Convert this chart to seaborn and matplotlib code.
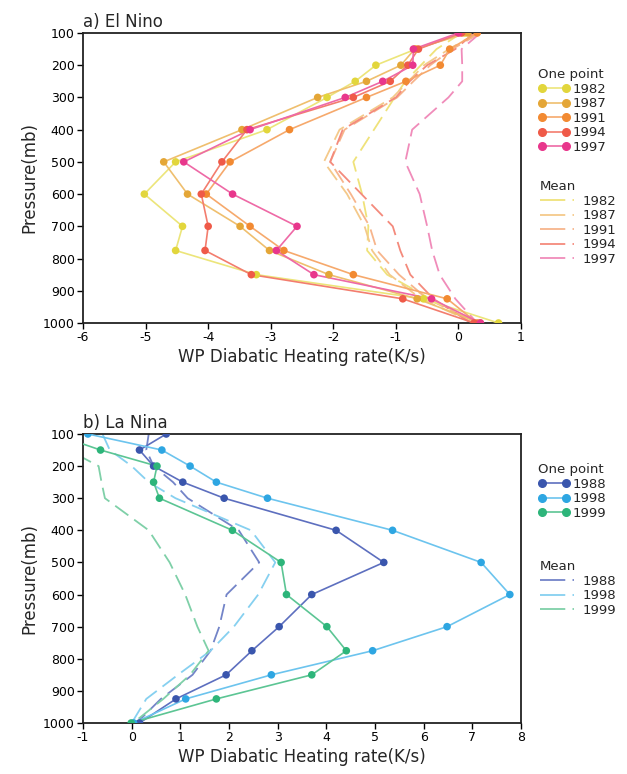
import numpy as np
import pandas as pd
import matplotlib
matplotlib.use("Agg")
import matplotlib.pyplot as plt
from matplotlib.lines import Line2D
import seaborn as sns

# ---------------- data ----------------
levels = [100, 150, 200, 250, 300, 400, 500, 600, 700, 775, 850, 925, 1000]

nino_years = ["1982", "1987", "1991", "1994", "1997"]
nino_point_1982 = [0.10, -0.68, -1.32, -1.65, -2.10, -3.06, -4.52, -5.02, -4.41, -4.52, -3.23, -0.56, 0.64]
nino_point_1987 = [0.15, -0.70, -0.92, -1.47, -2.25, -3.46, -4.71, -4.33, -3.49, -3.02, -2.07, -0.66, 0.35]
nino_point_1991 = [0.30, -0.14, -0.29, -0.84, -1.47, -2.70, -3.65, -4.03, -3.33, -2.79, -1.68, -0.18, 0.30]
nino_point_1994 = [0.05, -0.64, -0.81, -1.09, -1.68, -3.38, -3.78, -4.11, -4.00, -4.05, -3.31, -0.89, 0.25]
nino_point_1997 = [0.00, -0.72, -0.73, -1.21, -1.81, -3.33, -4.39, -3.61, -2.58, -2.91, -2.31, -0.43, 0.35]

nino_mean_1982 = [0.05, -0.35, -0.60, -0.85, -1.02, -1.35, -1.68, -1.54, -1.44, -1.46, -1.14, -0.45, 0.30]
nino_mean_1987 = [0.30, -0.15, -0.55, -0.80, -1.05, -1.90, -2.15, -1.78, -1.50, -1.38, -1.10, -0.60, 0.25]
nino_mean_1991 = [0.35, -0.10, -0.45, -0.72, -0.98, -1.82, -2.05, -1.72, -1.42, -1.30, -0.95, -0.50, 0.30]
nino_mean_1994 = [0.25, -0.05, -0.50, -0.78, -1.00, -1.85, -2.05, -1.55, -1.05, -0.93, -0.77, -0.40, 0.20]
nino_mean_1997 = [0.35, 0.05, 0.06, 0.06, -0.16, -0.74, -0.85, -0.62, -0.50, -0.42, -0.30, -0.05, 0.30]

nina_years = ["1988", "1998", "1999"]
nina_point_1988 = [0.71, 0.16, 0.45, 1.05, 1.90, 4.20, 5.18, 3.70, 3.03, 2.47, 1.94, 0.91, 0.16]
nina_point_1998 = [-0.90, 0.62, 1.20, 1.74, 2.79, 5.36, 7.18, 7.77, 6.48, 4.95, 2.87, 1.11, 0.04]
nina_point_1999 = [-1.60, -0.64, 0.52, 0.45, 0.57, 2.07, 3.07, 3.18, 4.01, 4.41, 3.70, 1.74, -0.01]

nina_mean_1988 = [0.35, 0.30, 0.45, 0.85, 1.15, 2.20, 2.62, 1.95, 1.80, 1.62, 1.25, 0.60, 0.10]
nina_mean_1998 = [-0.60, -0.45, 0.00, 0.35, 0.90, 2.45, 2.95, 2.60, 2.10, 1.62, 0.95, 0.30, 0.00]
nina_mean_1999 = [-2.00, -1.30, -0.68, -0.62, -0.55, 0.35, 0.78, 1.10, 1.35, 1.58, 1.20, 0.65, 0.03]

nino_ticks = [-6, -5, -4, -3, -2, -1, 0, 1]
nina_ticks = [-1, 0, 1, 2, 3, 4, 5, 6, 7, 8]
p_ticks = [100, 200, 300, 400, 500, 600, 700, 800, 900, 1000]

# ---------------- styles ----------------
nino_marker = {"1982": "#e2d63c", "1987": "#e4a637", "1991": "#f28a32", "1994": "#ef5a48", "1997": "#e8378c"}
nino_line = {"1982": "#ece57a", "1987": "#efbf6e", "1991": "#f6a96c", "1994": "#f37d6e", "1997": "#ee69a6"}
nino_mline = {"1982": "#efe27a", "1987": "#f4c98a", "1991": "#f7b58c", "1994": "#f48a7c", "1997": "#f08cba"}

nina_marker = {"1988": "#3a56ad", "1998": "#2ea6e2", "1999": "#2db57a"}
nina_line = {"1988": "#5d6fbf", "1998": "#6cc4ee", "1999": "#5cc594"}
nina_mline = {"1988": "#7384c8", "1998": "#86d0f0", "1999": "#7fd0a8"}

sns.set_theme(style="white")
plt.rcParams["font.family"] = ["DejaVu Sans"]

fig = plt.figure(figsize=(6.27, 7.74), dpi=100)
ax1 = fig.add_axes([0.1324, 0.5827, 0.6986, 0.3747])
ax2 = fig.add_axes([0.1324, 0.0659, 0.6986, 0.3734])

DASH = (9, 4)


def draw_panel(ax, years, points, means, mcol, lcol, mlcol):
    for y in years:
        df = pd.DataFrame({"x": means[y], "p": levels})
        sns.lineplot(data=df, x="x", y="p", orient="y", sort=True, estimator=None,
                     ax=ax, color=mlcol[y], lw=1.3, dashes=False, zorder=2)
        ax.lines[-1].set_dashes(DASH)
    for y in years:
        df = pd.DataFrame({"x": points[y], "p": levels})
        sns.lineplot(data=df, x="x", y="p", orient="y", sort=True, estimator=None,
                     ax=ax, color=lcol[y], lw=1.2, zorder=3)
        sns.scatterplot(data=df, x="x", y="p", ax=ax, color=mcol[y], s=30,
                        edgecolor="none", zorder=4)


nino_points = dict(zip(nino_years, [nino_point_1982, nino_point_1987, nino_point_1991, nino_point_1994, nino_point_1997]))
nino_means = dict(zip(nino_years, [nino_mean_1982, nino_mean_1987, nino_mean_1991, nino_mean_1994, nino_mean_1997]))
nina_points = dict(zip(nina_years, [nina_point_1988, nina_point_1998, nina_point_1999]))
nina_means = dict(zip(nina_years, [nina_mean_1988, nina_mean_1998, nina_mean_1999]))

draw_panel(ax1, nino_years, nino_points, nino_means, nino_marker, nino_line, nino_mline)
draw_panel(ax2, nina_years, nina_points, nina_means, nina_marker, nina_line, nina_mline)

for ax, xt, xlim, title in [(ax1, nino_ticks, (-6, 1), "a) El Nino"),
                            (ax2, nina_ticks, (-1, 8), "b) La Nina")]:
    ax.set_xlim(*xlim)
    ax.set_ylim(1000, 100)
    ax.set_xticks(xt)
    ax.set_xticklabels([str(t) for t in xt])
    ax.set_yticks(p_ticks)
    ax.set_yticklabels([str(t) for t in p_ticks])
    ax.tick_params(axis="both", direction="out", length=4, width=1, colors="black",
                   labelsize=9, bottom=True, left=True, top=False, right=False, pad=2)
    for s in ax.spines.values():
        s.set_color("#222222")
        s.set_linewidth(1.3)
    ax.set_xlabel("WP Diabatic Heating rate(K/s)", fontsize=12, labelpad=3)
    ax.set_ylabel("Pressure(mb)", fontsize=12, labelpad=3)
    ax.set_title(title, loc="left", fontsize=12, pad=4)
    ax.grid(False)


def add_legends(ax, years, mcol, lcol, mlcol, anchor1, anchor2):
    h1 = [Line2D([0], [0], color=lcol[y], lw=1.2, marker="o", markersize=5.5,
                 markerfacecolor=mcol[y], markeredgecolor=mcol[y]) for y in years]
    leg1 = ax.legend(h1, years, title="One point", loc="upper left", bbox_to_anchor=anchor1,
                     bbox_transform=fig.transFigure, frameon=False, fontsize=9.5,
                     title_fontsize=9.5, numpoints=2, handlelength=2.4, handletextpad=0.2,
                     labelspacing=0.12, borderpad=0, borderaxespad=0, alignment="left")
    ax.add_artist(leg1)
    h2 = []
    for y in years:
        ln = Line2D([0], [0], color=mlcol[y], lw=1.3)
        ln.set_dashes((14, 4))
        h2.append(ln)
    leg2 = ax.legend(h2, years, title="Mean", loc="upper left", bbox_to_anchor=anchor2,
                     bbox_transform=fig.transFigure, frameon=False, fontsize=9.5,
                     title_fontsize=9.5, handlelength=2.6, handletextpad=0.6,
                     labelspacing=0.12, borderpad=0, borderaxespad=0, alignment="left")


add_legends(ax1, nino_years, nino_marker, nino_line, nino_mline,
            (538 / 627, 1 - 68 / 774), (540 / 627, 1 - 180 / 774))
add_legends(ax2, nina_years, nina_marker, nina_line, nina_mline,
            (538 / 627, 1 - 463 / 774), (540 / 627, 1 - 560 / 774))

fig.savefig("out.png", dpi=100, facecolor="white")
